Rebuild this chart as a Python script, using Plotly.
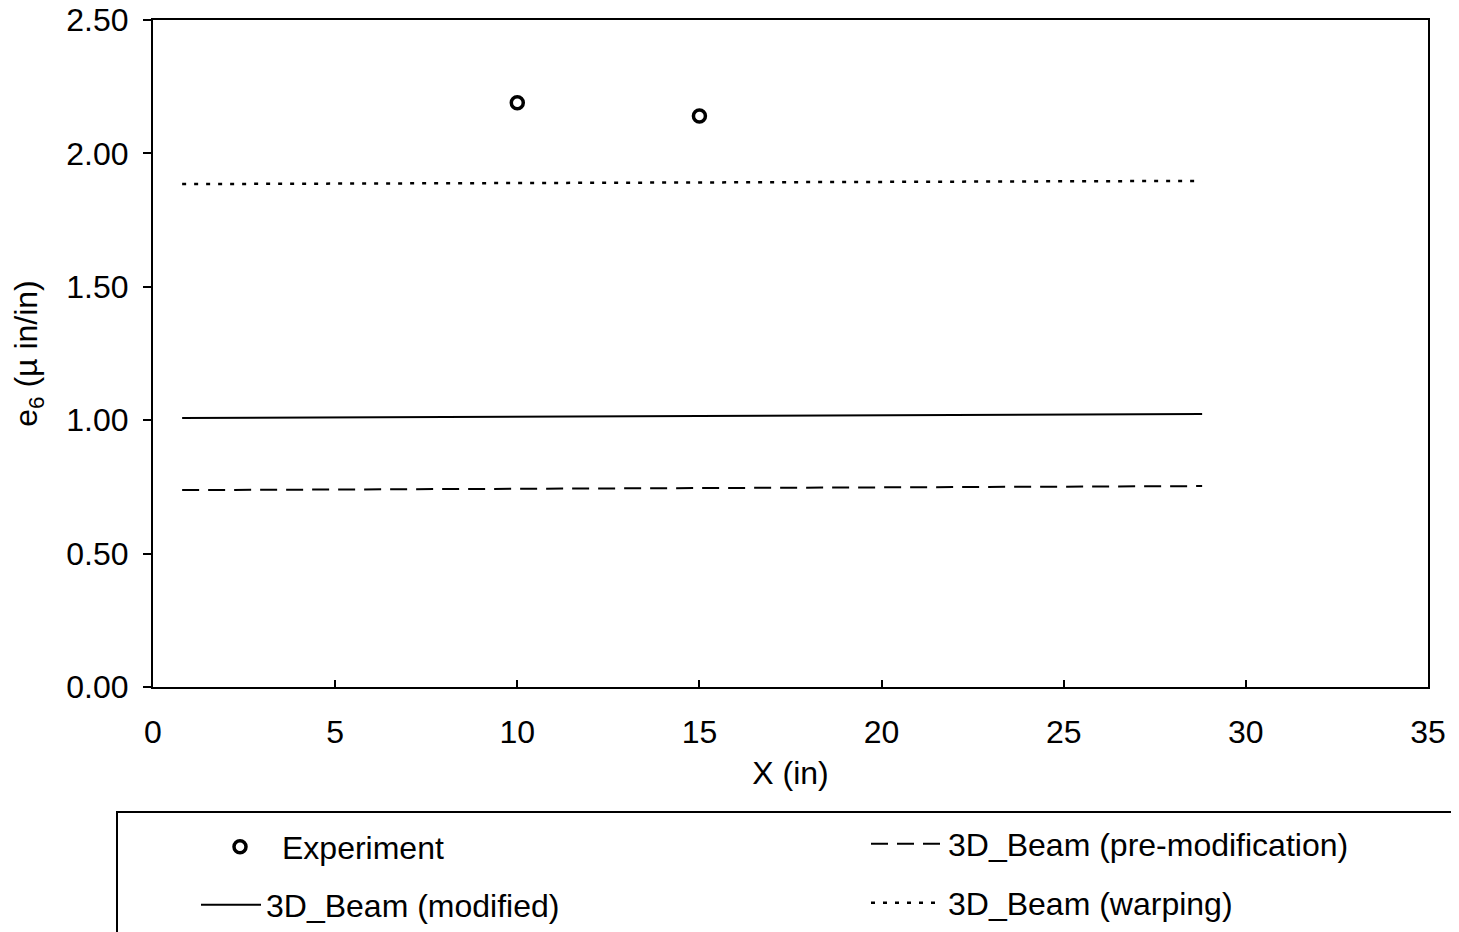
import plotly.graph_objects as go

exp_x = [10, 15]
exp_y = [2.19, 2.14]

line_x = [0.8, 28.8]
pre_mod_y = [0.738, 0.753]
modified_y = [1.008, 1.023]
warping_y = [1.885, 1.897]

FONT = "Liberation Sans, Arial, sans-serif"

# page body margin offset (~8px) compensation
OFF = 8
W, H = 1459, 932
PL, PR, PT, PB = 153, 1428, 20, 687   # target plot area in screenshot pixels
L, T = PL - OFF, PT - OFF
R = W - (PR - OFF)
B = H - (PB - OFF)
pw, ph = PR - PL, PB - PT

def px_x(p):
    return (p - PL) / pw

def px_y(p):
    return (PB - p) / ph

fig = go.Figure()
fig.add_trace(go.Scatter(x=exp_x, y=exp_y, mode="markers", name="Experiment",
                         marker=dict(symbol="circle", size=12, color="white",
                                     line=dict(color="black", width=3.5)),
                         legend="legend"))
fig.add_trace(go.Scatter(x=line_x, y=pre_mod_y, mode="lines", name="3D_Beam (pre-modification)",
                         line=dict(color="black", width=2, dash="17px,9px"), legend="legend2"))
fig.add_trace(go.Scatter(x=line_x, y=modified_y, mode="lines", name="3D_Beam (modified)",
                         line=dict(color="black", width=2), legend="legend3"))
fig.add_trace(go.Scatter(x=line_x, y=warping_y, mode="lines", name="3D_Beam (warping)",
                         line=dict(color="black", width=2.5, dash="4px,8px"), legend="legend4"))

def leg(xp, yp, iw):
    return dict(orientation="v", xanchor="left", yanchor="middle",
                x=px_x(xp), y=px_y(yp), itemwidth=iw,
                font=dict(family=FONT, size=32, color="black"),
                bgcolor="rgba(0,0,0,0)", borderwidth=0)

fig.update_layout(
    width=W, height=H,
    margin=dict(l=L, r=R, t=T, b=B, autoexpand=False),
    paper_bgcolor="white", plot_bgcolor="white",
    font=dict(family=FONT, size=32, color="black"),
    showlegend=True,
    legend=leg(198, 847, 74),
    legend2=leg(866, 844, 72),
    legend3=leg(196, 905, 60),
    legend4=leg(866, 903, 72),
    xaxis=dict(range=[0, 35], dtick=5, tick0=0, showgrid=False, zeroline=False,
               showline=True, linecolor="black", linewidth=2, mirror=True,
               ticks="inside", ticklen=7, tickcolor="black", tickwidth=1.5,
               ticklabelstandoff=16, automargin=False, ticklabeloverflow="allow",
               title=dict(text="X (in)", standoff=12, font=dict(size=32))),
    yaxis=dict(range=[0, 2.5], dtick=0.5, tick0=0, tickformat=".2f", showgrid=False,
               zeroline=False, showline=True, linecolor="black", linewidth=2, mirror=True,
               ticks="outside", ticklen=8, tickcolor="black", tickwidth=1.5,
               ticklabelstandoff=8, automargin=False, ticklabeloverflow="allow",
               title=dict(text="e<sub>6</sub> (µ in/in)", standoff=20, font=dict(size=32))),
    shapes=[dict(type="rect", xref="paper", yref="paper",
                 x0=px_x(117), x1=px_x(1457), y0=px_y(945), y1=px_y(812),
                 line=dict(color="black", width=2), fillcolor="rgba(0,0,0,0)")],
)

fig.write_html("out.html")
